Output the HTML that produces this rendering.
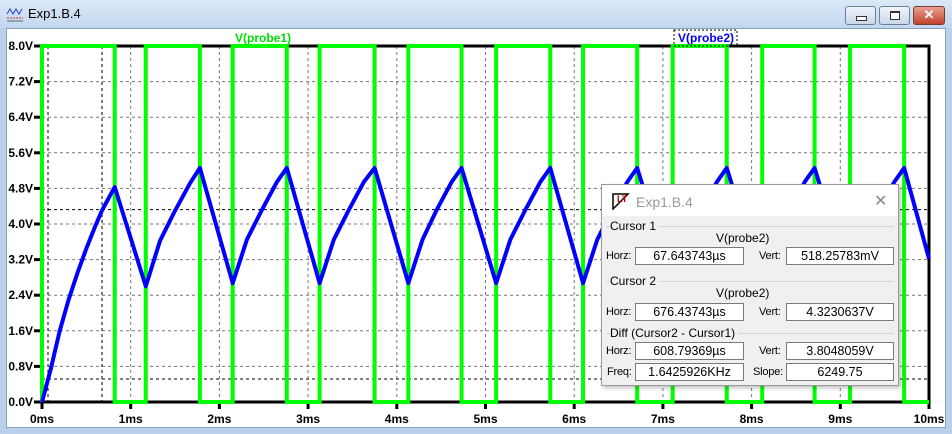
<!DOCTYPE html>
<html><head><meta charset="utf-8"><style>
body{margin:0;width:952px;height:434px;overflow:hidden;background:#b9d1ea;font-family:"Liberation Sans",sans-serif;position:relative}
.titlebar{position:absolute;left:0;top:0;width:952px;height:28px;background:linear-gradient(#dbe8f7,#c2d7ef)}
.ttl{position:absolute;left:28px;top:6px;font-size:13px;color:#000}
.btn{position:absolute;top:6px;height:17px;border:1px solid #6d7f98;border-radius:3px;background:linear-gradient(#f0f5fb,#c9d7ea)}
.plotwin{position:absolute;left:6px;top:28px;width:940px;height:400px;background:#fff;border:1px solid #8aa0bd;box-sizing:border-box}
.dlg{position:absolute;left:601px;top:184px;width:298px;height:202px;background:#f0f0f0;border:1px solid #9a9a9a;box-sizing:border-box;font-size:12px;color:#000;box-shadow:2px 2px 4px rgba(0,0,0,.25)}
.dlg .hd{position:absolute;left:0;top:0;width:296px;height:31px;background:#fff}
.fld{position:absolute;height:18px;background:#fff;border:1px solid #7a7a7a;box-sizing:border-box;text-align:center;line-height:16px;font-size:12.5px}
.lb{position:absolute;font-size:12px}
.sm{font-size:11px;letter-spacing:-0.2px}
.grp{position:absolute;left:4px;width:288px;border-top:1px solid #d5d5d5}
</style></head><body>
<div class="titlebar">
<svg style="position:absolute;left:6px;top:6px" width="18" height="16"><path d="M1 8 L4 3 L7 8 L10 3 L13 8 L16 3" stroke="#2040c0" fill="none"/><path d="M1 12 H17" stroke="#c03030" stroke-dasharray="2 1"/><path d="M1 15 H17" stroke="#666"/></svg>
<span class="ttl">Exp1.B.4</span>
<div class="btn" style="left:845px;width:29px"><div style="position:absolute;left:10px;top:9px;width:9px;height:3px;border:1px solid #333;background:#fff"></div></div>
<div class="btn" style="left:879px;width:29px"><div style="position:absolute;left:10px;top:4px;width:8px;height:6px;border:1px solid #333;border-top-width:2px;background:#fff"></div></div>
<div class="btn" style="left:913px;width:30px;background:linear-gradient(#e8a294,#c4412e);border-color:#7a3a30;color:#fff;font-weight:bold;text-align:center;font-size:13px;line-height:16px">✕</div>
</div>
<div class="plotwin"></div>
<svg id="chart" style="position:absolute;left:0;top:0" width="952" height="434"></svg>
<div class="dlg">
<div class="hd">
<svg style="position:absolute;left:9px;top:7px" width="20" height="18"><path d="M2 17 L2 2 L17 2 Z" fill="#fff" stroke="#000" stroke-width="1.5"/><text x="6" y="10" font-size="9" font-weight="bold" fill="#c00000" font-family="Liberation Sans">LT</text></svg>
<span class="lb" style="left:34px;top:9px;font-size:14px;color:#9a9a9a">Exp1.B.4</span>
<span class="lb" style="left:272px;top:6px;font-size:16px;color:#888">✕</span>
</div>
<div class="grp" style="top:41px"></div>
<span class="lb" style="left:8px;top:34px;background:#f0f0f0;padding-right:3px">Cursor 1</span>
<span class="lb" style="left:114px;top:46px">V(probe2)</span>
<span class="lb sm" style="left:4px;top:65px">Horz:</span>
<div class="fld" style="left:33px;top:62px;width:109px">67.643743µs</div>
<span class="lb sm" style="left:157px;top:65px">Vert:</span>
<div class="fld" style="left:184px;top:62px;width:108px">518.25783mV</div>
<div class="grp" style="top:96px"></div>
<span class="lb" style="left:8px;top:89px;background:#f0f0f0;padding-right:3px">Cursor 2</span>
<span class="lb" style="left:114px;top:101px">V(probe2)</span>
<span class="lb sm" style="left:4px;top:121px">Horz:</span>
<div class="fld" style="left:33px;top:118px;width:109px">676.43743µs</div>
<span class="lb sm" style="left:157px;top:121px">Vert:</span>
<div class="fld" style="left:184px;top:118px;width:108px">4.3230637V</div>
<div class="grp" style="top:148px"></div>
<span class="lb" style="left:8px;top:141px;background:#f0f0f0;padding-right:3px">Diff (Cursor2 - Cursor1)</span>
<span class="lb sm" style="left:4px;top:160px">Horz:</span>
<div class="fld" style="left:33px;top:157px;width:109px">608.79369µs</div>
<span class="lb sm" style="left:157px;top:160px">Vert:</span>
<div class="fld" style="left:184px;top:157px;width:108px">3.8048059V</div>
<span class="lb sm" style="left:5px;top:181px">Freq:</span>
<div class="fld" style="left:33px;top:178px;width:109px">1.6425926KHz</div>
<span class="lb sm" style="left:151px;top:181px">Slope:</span>
<div class="fld" style="left:184px;top:178px;width:108px">6249.75</div>
</div>
<script>
const xTicks=[0,1,2,3,4,5,6,7,8,9,10];
const xTickLabels=["0ms","1ms","2ms","3ms","4ms","5ms","6ms","7ms","8ms","9ms","10ms"];
const yTicks=[0,0.8,1.6,2.4,3.2,4.0,4.8,5.6,6.4,7.2,8.0];
const yTickLabels=["0.0V","0.8V","1.6V","2.4V","3.2V","4.0V","4.8V","5.6V","6.4V","7.2V","8.0V"];
const probe1T=[0,0,0.82,0.82,1.17,1.17,1.78,1.78,2.15,2.15,2.76,2.76,3.13,3.13,3.75,3.75,4.13,4.13,4.73,4.73,5.12,5.12,5.73,5.73,6.10,6.10,6.71,6.71,7.11,7.11,7.72,7.72,8.12,8.12,8.71,8.71,9.11,9.11,9.72,9.72,10];
const probe1V=[0,8,8,0,0,8,8,0,0,8,8,0,0,8,8,0,0,8,8,0,0,8,8,0,0,8,8,0,0,8,8,0,0,8,8,0,0,8,8,0,0];
const probe2T=[0,0.1,0.2,0.3,0.4,0.5,0.6,0.68,0.82,
1.17,1.33,1.50,1.67,1.78,
2.15,2.31,2.48,2.65,2.76,
3.13,3.29,3.46,3.63,3.75,
4.13,4.29,4.45,4.62,4.73,
5.12,5.28,5.45,5.62,5.73,
6.10,6.26,6.43,6.60,6.71,
7.11,7.27,7.44,7.61,7.72,
8.12,8.28,8.44,8.60,8.71,
9.11,9.27,9.44,9.61,9.72,10];
const probe2V=[0,0.75,1.6,2.3,2.9,3.45,3.95,4.32,4.83,
2.6,3.62,4.3,4.92,5.26,
2.67,3.65,4.32,4.95,5.26,
2.67,3.65,4.32,4.95,5.26,
2.67,3.65,4.32,4.95,5.26,
2.67,3.65,4.32,4.95,5.26,
2.67,3.65,4.32,4.95,5.26,
2.67,3.65,4.32,4.95,5.26,
2.67,3.65,4.32,4.95,5.26,
2.67,3.65,4.32,4.95,5.26,3.22];
const cursorT=[0.0676,0.6764];
const cursorV=[0.518,4.323];
const X0=42,X1=929,Y0=402,Y1=46;
function sx(t){return X0+(t-0)/(10-0)*(X1-X0);}
function sy(v){return Y0-(v-0)/(8-0)*(Y0-Y1);}
const svg=document.getElementById('chart');
const NS='http://www.w3.org/2000/svg';
function mk(tag,attrs){const e=document.createElementNS(NS,tag);for(const k in attrs)e.setAttribute(k,attrs[k]);svg.appendChild(e);return e;}
xTicks.forEach((t,i)=>{
 if(i>0&&i<xTicks.length-1){const g=mk('line',{x1:sx(t),x2:sx(t),y1:Y1,y2:Y0,stroke:'#777','stroke-dasharray':'3 3'});
 
 }
 const tk=mk('line',{x1:sx(t),x2:sx(t),y1:Y0,y2:Y0+7,stroke:'#000','stroke-width':3});
 
 
 const tx=mk('text',{x:sx(t),y:Y0+21,'text-anchor':'middle','font-size':12,'font-weight':'bold','font-family':'Liberation Sans'});
 tx.textContent=xTickLabels[i];
 
 
});
yTicks.forEach((v,i)=>{
 if(i>0&&i<yTicks.length-1){const g=mk('line',{x1:X0,x2:X1,y1:sy(v),y2:sy(v),stroke:'#777','stroke-dasharray':'3 3'});
 
 }
 const tk=mk('line',{x1:X0-8,x2:X0,y1:sy(v),y2:sy(v),stroke:'#000','stroke-width':3});
 
 
 const tx=mk('text',{x:X0-9,y:sy(v)+4,'text-anchor':'end','font-size':12,'font-weight':'bold','font-family':'Liberation Sans'});
 tx.textContent=yTickLabels[i];
 
 
});
cursorT.forEach(t=>{const l=mk('line',{x1:sx(t),x2:sx(t),y1:Y1,y2:Y0,stroke:'#000','stroke-dasharray':'3 3'});
 
 });
cursorV.forEach(v=>{const l=mk('line',{x1:X0,x2:X1,y1:sy(v),y2:sy(v),stroke:'#000','stroke-dasharray':'3 3'});
 
 });
const fr=mk('rect',{x:X0,y:Y1,width:X1-X0,height:Y0-Y1,fill:'none',stroke:'#000','stroke-width':3});


const g1=mk('polyline',{points:probe1T.map((t,i)=>sx(t)+','+sy(probe1V[i])).join(' '),fill:'none',stroke:'#00ff00','stroke-width':4});


const g2=mk('polyline',{points:probe2T.map((t,i)=>sx(t)+','+sy(probe2V[i])).join(' '),fill:'none',stroke:'#0000ff','stroke-width':4,'stroke-linejoin':'round'});


const l1=mk('text',{x:263,y:42,'text-anchor':'middle','font-size':12,'font-weight':'bold',fill:'#00dd00','font-family':'Liberation Sans'});
l1.textContent='V(probe1)';


const bx=mk('rect',{x:674,y:30,width:63,height:16,fill:'none',stroke:'#000','stroke-dasharray':'2 2'});


const l2=mk('text',{x:706,y:42,'text-anchor':'middle','font-size':12,'font-weight':'bold',fill:'#0000ff','font-family':'Liberation Sans'});
l2.textContent='V(probe2)';


</script>
</body></html>
